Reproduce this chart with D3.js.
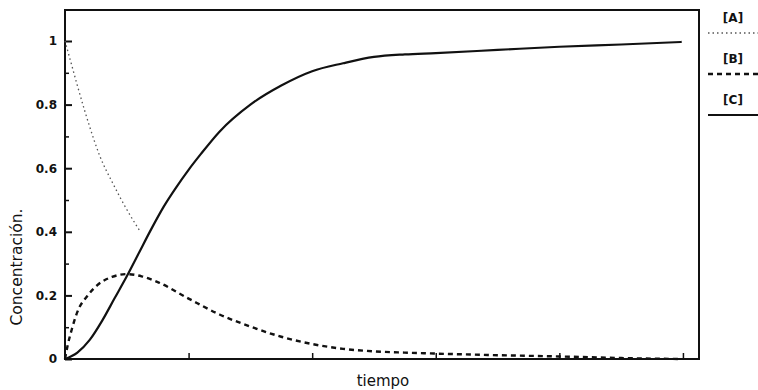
<!DOCTYPE html>
<html>
<head>
<meta charset="utf-8">
<script src="https://cdn.jsdelivr.net/npm/d3@7"></script>
<style>
  html, body { margin: 0; padding: 0; background: #fff; }
  svg { display: block; }
</style>
</head>
<body>
<svg id="chart" width="758" height="390"></svg>
<script>
// Consecutive reaction A -> B -> C: concentration against time
const timeA = [0, 0.05, 0.10, 0.16, 0.20, 0.28, 0.39, 0.50, 0.61];
const concA = [1.0, 0.93, 0.86, 0.78, 0.73, 0.64, 0.55, 0.47, 0.40];

const timeB = [0, 0.02, 0.06, 0.10, 0.18, 0.27, 0.38, 0.50, 0.62, 0.75, 1.0, 1.25, 1.5, 1.75, 2.0, 2.25, 2.5, 2.75, 3.0, 3.5, 4.0, 4.5, 4.97];
const concB = [0, 0.04, 0.10, 0.148, 0.198, 0.235, 0.258, 0.267, 0.26, 0.242, 0.19, 0.14, 0.102, 0.07, 0.047, 0.032, 0.024, 0.02, 0.017, 0.012, 0.008, 0.003, 0.0];

const timeC = [0, 0.1, 0.2, 0.3, 0.4, 0.5, 0.6, 0.7, 0.8, 0.9, 1.0, 1.1, 1.25, 1.5, 1.75, 2.0, 2.25, 2.5, 2.75, 3.0, 3.5, 4.0, 4.5, 4.99];
const concC = [0, 0.02, 0.06, 0.12, 0.19, 0.26, 0.335, 0.41, 0.48, 0.54, 0.595, 0.645, 0.715, 0.80, 0.86, 0.905, 0.93, 0.95, 0.958, 0.962, 0.972, 0.982, 0.989, 0.997];

const yTickValues = [0, 0.2, 0.4, 0.6, 0.8, 1];
const yTickLabels = ["0", "0.2", "0.4", "0.6", "0.8", "1"];
const yMinorTicks = [0.1, 0.3, 0.5, 0.7, 0.9];
const xTickValues = [1, 2, 3, 4, 5];
const legendLabels = ["[A]", "[B]", "[C]"];

const svg = d3.select("#chart");
const plotLeft = 65, plotRight = 699, plotTop = 10, plotBottom = 359;

const x = d3.scaleLinear().domain([0, 5.13]).range([plotLeft, plotRight]);
const y = d3.scaleLinear().domain([0, 1]).range([plotBottom, 41]);

const font = "'DejaVu Sans', sans-serif";

// frame
svg.append("rect")
  .attr("x", plotLeft).attr("y", plotTop)
  .attr("width", plotRight - plotLeft).attr("height", plotBottom - plotTop)
  .attr("fill", "none").attr("stroke", "#111").attr("stroke-width", 2);

// y axis: inward ticks with labels
const yAxis = svg.append("g").attr("transform", `translate(${plotLeft},0)`)
  .call(d3.axisLeft(y).tickValues(yTickValues)
    .tickFormat((d, i) => yTickLabels[i]).tickSize(-7).tickPadding(8));
yAxis.select(".domain").remove();
yAxis.selectAll(".tick line").attr("stroke", "#111").attr("stroke-width", 2);
yAxis.selectAll(".tick text")
  .attr("font-family", font).attr("font-size", 12).attr("font-weight", "bold")
  .attr("fill", "#111");

const yMinor = svg.append("g").attr("transform", `translate(${plotLeft},0)`)
  .call(d3.axisLeft(y).tickValues(yMinorTicks).tickFormat("").tickSize(-4));
yMinor.select(".domain").remove();
yMinor.selectAll(".tick line").attr("stroke", "#111").attr("stroke-width", 1.5);

// x axis: unlabeled inward ticks
const xAxis = svg.append("g").attr("transform", `translate(0,${plotBottom})`)
  .call(d3.axisBottom(x).tickValues(xTickValues).tickFormat("").tickSize(-6));
xAxis.select(".domain").remove();
xAxis.selectAll(".tick line").attr("stroke", "#111").attr("stroke-width", 1.5);

// axis titles
svg.append("text")
  .attr("x", 383).attr("y", 386)
  .attr("text-anchor", "middle")
  .attr("font-family", font).attr("font-size", 15)
  .attr("fill", "#111")
  .text("tiempo");

svg.append("text")
  .attr("transform", "translate(22,267) rotate(-90)")
  .attr("text-anchor", "middle")
  .attr("font-family", font).attr("font-size", 15.5)
  .attr("fill", "#111")
  .text("Concentración.");

// curves
const line = d3.line().x(d => x(d[0])).y(d => y(d[1])).curve(d3.curveMonotoneX);

const series = [
  { t: timeA, v: concA, stroke: "#555", width: 1.3, dash: "1.5,3" },
  { t: timeB, v: concB, stroke: "#111", width: 2.4, dash: "5,4" },
  { t: timeC, v: concC, stroke: "#111", width: 2.2, dash: null }
];

series.forEach(s => {
  svg.append("path")
    .datum(s.t.map((t, i) => [t, s.v[i]]))
    .attr("d", line)
    .attr("fill", "none")
    .attr("stroke", s.stroke)
    .attr("stroke-width", s.width)
    .attr("stroke-dasharray", s.dash);
});

// legend at the right
const legend = svg.append("g");
legendLabels.forEach((lab, i) => {
  const s = series[i];
  const cy = 17 + i * 41;
  legend.append("text")
    .attr("x", 733).attr("y", cy + 5)
    .attr("text-anchor", "middle")
    .attr("font-family", font).attr("font-size", 12).attr("font-weight", "bold")
    .attr("fill", "#111")
    .text(lab);
  legend.append("line")
    .attr("x1", 708).attr("x2", 758)
    .attr("y1", cy + 16).attr("y2", cy + 16)
    .attr("stroke", s.stroke)
    .attr("stroke-width", s.width)
    .attr("stroke-dasharray", s.dash);
});
</script>
</body>
</html>
